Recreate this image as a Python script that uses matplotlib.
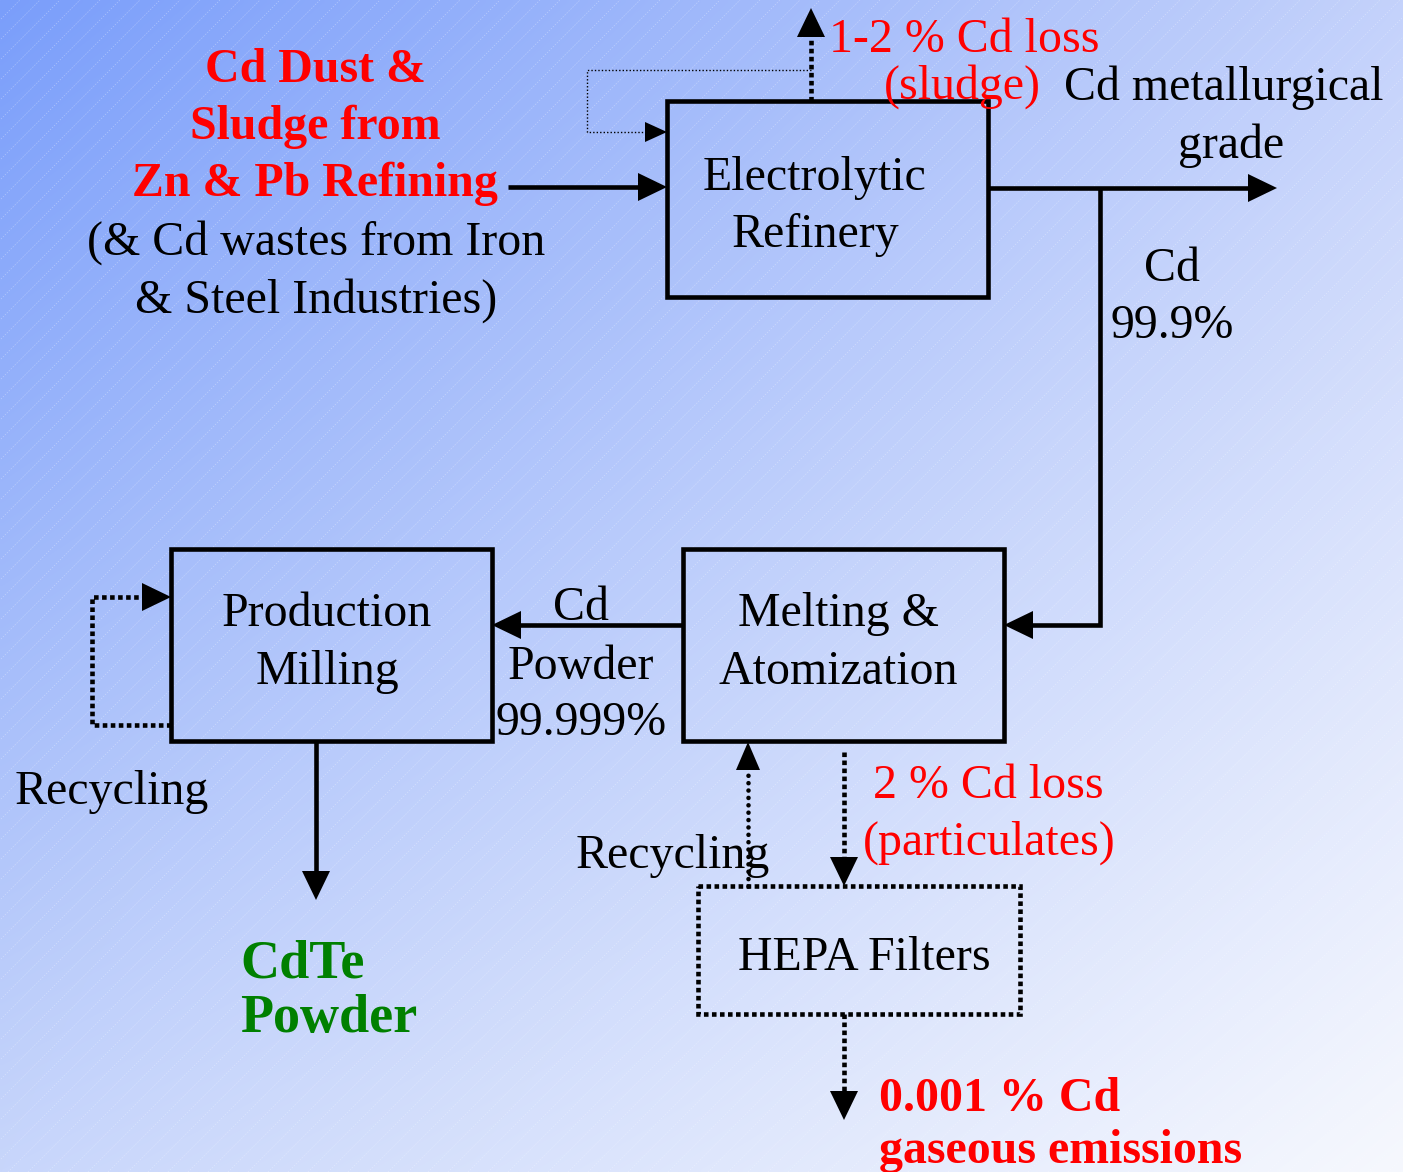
import numpy as np
import matplotlib.pyplot as plt
from matplotlib.patches import Rectangle, Polygon

W, H = 1403, 1172

# process boxes: name -> (x0, y0, x1, y1, style)
box_names = ["refinery", "melting", "milling", "hepa"]
box_extents = [(667, 101, 988, 297), (683, 549, 1004, 741),
               (171, 549, 492, 741), (698, 886, 1020, 1014)]
box_styles = ["solid", "solid", "solid", "dotted"]

# labels: text, x, y, alignment, colour, weight
label_text = [
    "Cd Dust &", "Sludge from", "Zn & Pb Refining",
    "(& Cd wastes from Iron", "& Steel Industries)",
    "Electrolytic", "Refinery",
    "1-2 % Cd loss", "(sludge)",
    "Cd metallurgical", "grade",
    "Cd", "99.9%",
    "Production", "Milling",
    "Cd", "Powder", "99.999%",
    "Melting &", "Atomization",
    "Recycling",
    "2 % Cd loss", "(particulates)",
    "Recycling",
    "HEPA Filters",
    "CdTe", "Powder",
    "0.001 % Cd", "gaseous emissions",
]
label_x = [315, 315, 315, 316, 316, 815, 815, 829, 884, 1224, 1231, 1172, 1172,
           327, 327, 581, 581, 581, 838, 838, 15, 873, 863, 576, 864,
           240, 240, 879, 879]
label_y = [67, 124, 181, 240, 298, 175, 232, 37, 84, 85, 143, 266, 323,
           611, 669, 605, 664, 720, 611, 669, 789, 783, 840, 853, 955,
           962, 1016, 1096, 1148]
label_ha = ["center"] * 7 + ["left"] * 2 + ["center"] * 11 + ["left"] * 4 \
    + ["center"] + ["left"] * 4
RED, GREEN, BLACK = "#ff0000", "#008000", "black"
label_color = [RED] * 3 + [BLACK] * 4 + [RED] * 2 + [BLACK] * 12 + [RED] * 2 \
    + [BLACK] * 2 + [GREEN] * 2 + [RED] * 2
label_weight = ["bold"] * 3 + ["normal"] * 22 + ["bold"] * 4
label_size = [34.5] * 25 + [39, 39] + [34.5] * 2

fig = plt.figure(figsize=(W / 100, H / 100), dpi=100)
ax = fig.add_axes([0, 0, 1, 1])
ax.set_xlim(0, W)
ax.set_ylim(H, 0)
ax.axis("off")

# diagonal gradient background
tl = np.array([122, 158, 250]) / 255
tr = np.array([196, 210, 251]) / 255
bl = np.array([200, 214, 251]) / 255
br = np.array([246, 248, 254]) / 255
u = np.linspace(0, 1, 300)[None, :, None]
v = np.linspace(0, 1, 250)[:, None, None]
img = (1 - u) * (1 - v) * tl + u * (1 - v) * tr + (1 - u) * v * bl + u * v * br
ax.imshow(img, extent=(0, W, H, 0), aspect="auto", zorder=0, interpolation="bilinear")

# faint diagonal hatch lines
for c in np.arange(0, W + H, 20):
    ax.plot([c - H, c], [H, 0], color="white", lw=0.5, alpha=0.35,
            ls=(0, (2, 2)), zorder=0.5)

LW = 3.3


def head(x, y, d, size=29, width=28):
    # filled arrow head with tip at (x, y), pointing in direction d
    dx, dy = {"r": (1, 0), "l": (-1, 0), "u": (0, -1), "d": (0, 1)}[d]
    bx, by = x - dx * size, y - dy * size
    px, py = -dy * width / 2, dx * width / 2
    ax.add_patch(Polygon([(x, y), (bx + px, by + py), (bx - px, by - py)],
                         closed=True, color="black", zorder=4, lw=0))


def line(xs, ys, style="solid", lw=LW):
    if style == "solid":
        ax.plot(xs, ys, color="black", lw=lw, solid_capstyle="butt",
                solid_joinstyle="miter", zorder=3)
    elif style == "dotted":
        ax.plot(xs, ys, color="black", lw=lw, ls=(0, (1, 0.75)),
                dash_capstyle="butt", zorder=3)
    elif style == "round":
        ax.plot(xs, ys, color="black", lw=lw, ls=(0, (0.01, 1.6)),
                dash_capstyle="round", zorder=3)
    elif style == "thin":
        ax.plot(xs, ys, color="black", lw=1.0, ls=(0, (1, 1.5)), zorder=3)


for name, (x0, y0, x1, y1), st in zip(box_names, box_extents, box_styles):
    ax.add_patch(Rectangle((x0, y0), x1 - x0, y1 - y0, fill=False,
                           ec="black", lw=LW,
                           ls="solid" if st == "solid" else (0, (1, 0.75)),
                           joinstyle="miter", zorder=3))

# main flow
line([508, 640], [187, 187]); head(667, 187, "r")
line([988, 1250], [188, 188]); head(1277, 188, "r")
line([1100, 1100, 1032], [188, 625, 625]); head(1004, 625, "l")
line([683, 520], [625, 625]); head(492, 625, "l")
line([316, 316], [741, 872]); head(316, 900, "d")

# losses and recycling loops
line([811, 811], [101, 37], "dotted"); head(811, 8, "u")
line([811, 587, 587, 645], [70, 70, 132, 132], "thin"); head(667, 132, "r", 22, 20)
line([171, 92, 92, 143], [725, 725, 597, 597], "dotted"); head(171, 597, "r")
line([844, 844], [752, 858], "dotted"); head(844, 886, "d")
line([748, 748], [886, 770], "round"); head(748, 742, "u", 28, 24)
line([844, 844], [1014, 1092], "dotted"); head(844, 1120, "d")

for t, x, y, ha, c, w, s in zip(label_text, label_x, label_y, label_ha,
                                label_color, label_weight, label_size):
    ax.text(x, y + 3, t, ha=ha, va="center", color=c, fontweight=w,
            fontsize=s, family="Liberation Serif", zorder=5)

fig.savefig("out.png", dpi=100)
